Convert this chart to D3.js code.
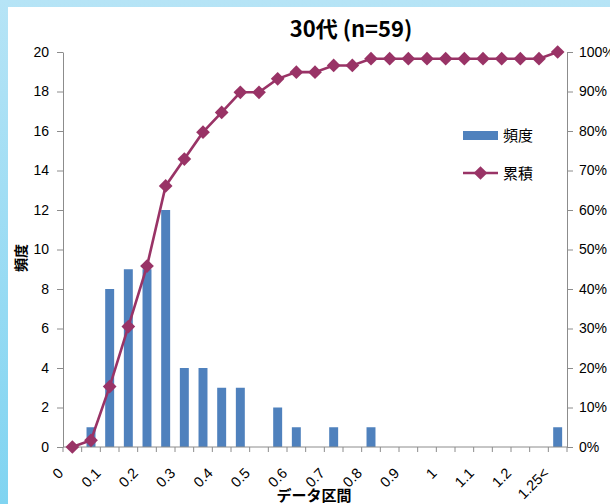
<!DOCTYPE html>
<html>
<head>
<meta charset="utf-8">
<script src="https://cdn.jsdelivr.net/npm/d3@7"></script>
<style>
  body { margin: 0; padding: 0; }
  svg { display: block; }
  .num { font-family: "Liberation Sans", Arial, sans-serif; font-size: 14px; fill: #000; }
  .jp { font-family: "Noto Sans CJK JP", sans-serif; fill: #000; }
</style>
</head>
<body>
<div id="chart"></div>
<script>
var svgWidth = 610;
var svgHeight = 504;

// data bins (label shown on every other bin)
var categories = ["0", "0.05", "0.1", "0.15", "0.2", "0.25", "0.3", "0.35", "0.4", "0.45",
  "0.5", "0.55", "0.6", "0.65", "0.7", "0.75", "0.8", "0.85", "0.9", "0.95",
  "1", "1.05", "1.1", "1.15", "1.2", "1.25", "1.25<"];
var counts = [0, 1, 8, 9, 9, 12, 4, 4, 3, 3, 0, 2, 1, 0, 1, 0, 1, 0, 0, 0, 0, 0, 0, 0, 0, 0, 1];
var cumulative = [0, 1.7, 15.3, 30.5, 45.8, 66.1, 72.9, 79.7, 84.7, 89.8, 89.8, 93.2, 94.9, 94.9,
  96.6, 96.6, 98.3, 98.3, 98.3, 98.3, 98.3, 98.3, 98.3, 98.3, 98.3, 98.3, 100];
var leftTicks = [0, 2, 4, 6, 8, 10, 12, 14, 16, 18, 20];
var rightTicks = [0, 10, 20, 30, 40, 50, 60, 70, 80, 90, 100];

var barColor = "#4f81bd";
var lineColor = "#993366";
var axisColor = "#8c8c8c";

var plot = { left: 63, right: 567, top: 52, bottom: 447 };

var svg = d3.select("#chart").append("svg")
  .attr("width", svgWidth)
  .attr("height", svgHeight);

// background frame
var defs = svg.append("defs");
var grad = defs.append("linearGradient")
  .attr("id", "bg")
  .attr("x1", 0).attr("y1", 0).attr("x2", 0).attr("y2", 1);
grad.append("stop").attr("offset", "0%").attr("stop-color", "#b6e4f6");
grad.append("stop").attr("offset", "100%").attr("stop-color", "#80d4f1");

svg.append("rect")
  .attr("width", svgWidth).attr("height", svgHeight)
  .attr("fill", "url(#bg)");
svg.append("rect")
  .attr("x", 8).attr("y", 7)
  .attr("width", svgWidth - 8).attr("height", svgHeight - 7)
  .attr("fill", "#fff");

// scales
var xSlot = d3.scaleBand()
  .domain(categories)
  .range([plot.left, plot.right])
  .padding(0);

var xBar = d3.scaleBand()
  .domain(categories)
  .range([plot.left, plot.right])
  .paddingInner(0.52)
  .paddingOuter(0.26);

var yLeft = d3.scaleLinear().domain([0, 20]).range([plot.bottom, plot.top]);
var yRight = d3.scaleLinear().domain([0, 100]).range([plot.bottom, plot.top]);

// bars
svg.append("g").selectAll("rect")
  .data(counts)
  .enter()
  .append("rect")
  .attr("x", (d, i) => xBar(categories[i]))
  .attr("y", d => yLeft(d))
  .attr("width", xBar.bandwidth())
  .attr("height", d => yLeft(0) - yLeft(d))
  .attr("fill", barColor);

// axes
var leftAxis = d3.axisLeft(yLeft)
  .tickValues(leftTicks)
  .tickSize(6)
  .tickSizeOuter(0)
  .tickPadding(8);

var rightAxis = d3.axisRight(yRight)
  .tickValues(rightTicks)
  .tickFormat(d => d + "%")
  .tickSize(6)
  .tickSizeOuter(0)
  .tickPadding(6);

var yAxisL = svg.append("g")
  .attr("transform", `translate(${plot.left}, 0)`)
  .call(leftAxis);

var yAxisR = svg.append("g")
  .attr("transform", `translate(${plot.right}, 0)`)
  .call(rightAxis);

[yAxisL, yAxisR].forEach(function (g) {
  g.select(".domain").attr("stroke", axisColor);
  g.selectAll(".tick line").attr("stroke", axisColor);
  g.selectAll(".tick text")
    .attr("class", "num")
    .attr("font-family", null)
    .attr("font-size", null);
});

// bottom axis line and bin boundary ticks
var xAxis = svg.append("g");
xAxis.append("line")
  .attr("x1", plot.left).attr("x2", plot.right)
  .attr("y1", plot.bottom).attr("y2", plot.bottom)
  .attr("stroke", axisColor);

var boundaries = categories.map(c => xSlot(c)).concat([xSlot.range()[1]]);
xAxis.selectAll("line.tick")
  .data(boundaries)
  .enter()
  .append("line")
  .attr("class", "tick")
  .attr("x1", d => d).attr("x2", d => d)
  .attr("y1", plot.bottom).attr("y2", plot.bottom + 5)
  .attr("stroke", axisColor);

xAxis.selectAll("text")
  .data(categories.filter((c, i) => i % 2 == 0))
  .enter()
  .append("text")
  .attr("class", "num")
  .style("font-size", "14.5px")
  .attr("text-anchor", "end")
  .attr("transform", d => {
    var cx = xSlot(d) + xSlot.bandwidth() / 2 - 8;
    return `translate(${cx}, ${plot.bottom + 27}) rotate(-45)`;
  })
  .text(d => d);

// cumulative line
var line = d3.line()
  .x((d, i) => xSlot(categories[i]) + xSlot.bandwidth() / 2)
  .y(d => yRight(d));

svg.append("path")
  .datum(cumulative)
  .attr("d", line)
  .attr("fill", "none")
  .attr("stroke", lineColor)
  .attr("stroke-width", 2.6);

var diamond = d3.symbol().type(d3.symbolDiamond2).size(120);

svg.append("g").selectAll("path")
  .data(cumulative)
  .enter()
  .append("path")
  .attr("d", diamond)
  .attr("transform", (d, i) =>
    `translate(${xSlot(categories[i]) + xSlot.bandwidth() / 2}, ${yRight(d)})`)
  .attr("fill", lineColor);

// title and axis titles
svg.append("text")
  .attr("class", "jp")
  .attr("x", 351)
  .attr("y", 37)
  .attr("text-anchor", "middle")
  .style("font-size", "22px")
  .style("font-weight", "bold")
  .text("30代 (n=59)");

svg.append("text")
  .attr("class", "jp")
  .attr("transform", "translate(26, 258) rotate(-90)")
  .attr("text-anchor", "middle")
  .style("font-size", "14px")
  .style("font-weight", "bold")
  .text("頻度");

svg.append("text")
  .attr("class", "jp")
  .attr("x", 314)
  .attr("y", 501)
  .attr("text-anchor", "middle")
  .style("font-size", "15px")
  .style("font-weight", "bold")
  .text("データ区間");

// legend
var legend = svg.append("g").attr("transform", "translate(463, 0)");

legend.append("rect")
  .attr("x", 0).attr("y", 131)
  .attr("width", 35).attr("height", 9)
  .attr("fill", barColor);
legend.append("text")
  .attr("class", "jp")
  .attr("x", 40).attr("y", 141)
  .style("font-size", "15px")
  .text("頻度");

legend.append("line")
  .attr("x1", 0).attr("x2", 35)
  .attr("y1", 173).attr("y2", 173)
  .attr("stroke", lineColor)
  .attr("stroke-width", 2.6);
legend.append("path")
  .attr("d", diamond)
  .attr("transform", "translate(17.5, 173)")
  .attr("fill", lineColor);
legend.append("text")
  .attr("class", "jp")
  .attr("x", 40).attr("y", 179)
  .style("font-size", "15px")
  .text("累積");
</script>
</body>
</html>
